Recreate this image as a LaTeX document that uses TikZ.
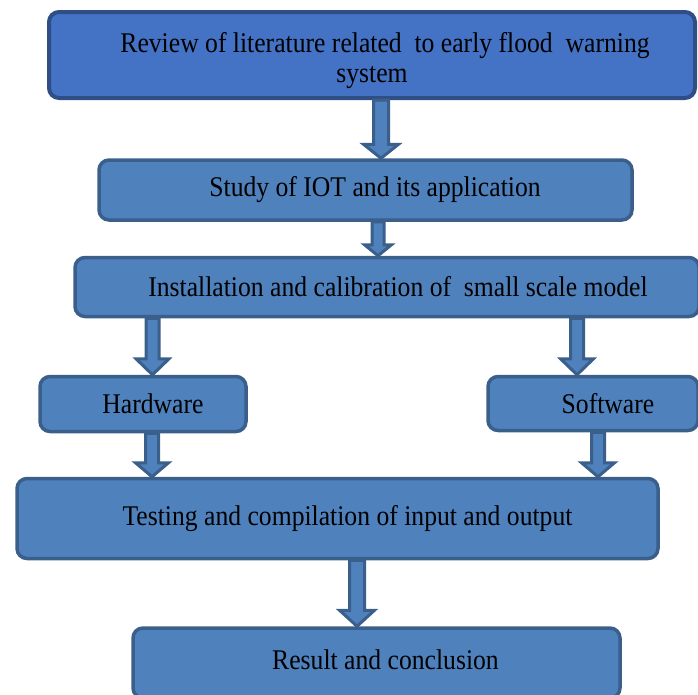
\documentclass[tikz,border=0pt]{standalone}
\usepackage{fontspec}
\setmainfont{Liberation Serif}[FakeStretch=0.9]
\usetikzlibrary{calc}
\definecolor{topfill}{HTML}{4472C4}
\definecolor{topline}{HTML}{2F4E86}
\definecolor{boxfill}{HTML}{4F81BD}
\definecolor{boxline}{HTML}{3A5F8B}
\tikzset{
  box/.style={draw=boxline, fill=boxfill, line width=3.5pt, rounded corners=10pt,
    inner sep=0pt, align=center, font=\fontsize{28.5}{30}\selectfont, text=black},
  topbox/.style={box, draw=topline, fill=topfill, line width=4pt},
  barrowstyle/.style={draw=boxline, fill=boxfill, line width=3pt, line join=miter}
}
% #1 start, #2 end, #3 half shaft, #4 half head, #5 head length
\newcommand{\blockarrow}[5]{%
  \path[barrowstyle] let \p1=(#1), \p2=(#2) in
    (\x1-#3pt,\y1) -- (\x1+#3pt,\y1) -- (\x1+#3pt,\y2+#5pt) -- (\x1+#4pt,\y2+#5pt)
    -- (\x1,\y2) -- (\x1-#4pt,\y2+#5pt) -- (\x1-#3pt,\y2+#5pt) -- cycle;}
\begin{document}
\begin{tikzpicture}[x=1pt,y=-1pt]
\useasboundingbox (0,0) rectangle (698,694);
\node[topbox, minimum width=646pt, minimum height=86pt] (b1) at (372,55)
  {\raisebox{-13pt}[0pt][0pt]{\begin{tabular}{@{}c@{}}Review of literature related~ to early flood~ warning\hspace*{-26pt}\\ system\end{tabular}}};
\node[box, minimum width=533pt, minimum height=60pt] (b2) at (365.5,190)
  {Study of IOT and its application\hspace*{-19pt}};
\node[box, minimum width=624pt, minimum height=59pt] (b3) at (387,287)
  {Installation and calibration of~ small scale model\hspace*{-22pt}};
\node[box, minimum width=206pt, minimum height=55pt] (hw) at (143,404)
  {Hardware\hspace*{-20pt}};
\node[box, minimum width=210pt, minimum height=54pt] (sw) at (593,403.5)
  {Software\hspace*{-30pt}};
\node[box, minimum width=641pt, minimum height=80pt] (tc) at (337.5,518.5)
  {Testing and compilation of input and output\hspace*{-20pt}};
\node[box, minimum width=487pt, minimum height=70pt] (rc) at (376.5,663)
  {\raisebox{6pt}{Result and conclusion}\hspace*{-18pt}};
% connectors
\coordinate (a1s) at ([xshift=9pt]b1.south);
\coordinate (a2s) at ([xshift=12.5pt]b2.south);
\coordinate (a3s) at ([xshift=-234.5pt]b3.south);
\coordinate (a4s) at ([xshift=190pt]b3.south);
\coordinate (a5s) at ([xshift=9pt]hw.south);
\coordinate (a6s) at ([xshift=5pt]sw.south);
\coordinate (a7s) at ([xshift=19.5pt]tc.south);
\blockarrow{a1s}{a1s |- b2.north}{7.5}{17.5}{14}
\blockarrow{a2s}{a2s |- b3.north}{6}{13.5}{11}
\blockarrow{a3s}{a3s |- hw.north}{6.5}{16.5}{16}
\blockarrow{a4s}{a4s |- sw.north}{6.5}{16.5}{16}
\blockarrow{a5s}{a5s |- tc.north}{6.5}{16.5}{14}
\blockarrow{a6s}{a6s |- tc.north}{6.5}{16.5}{14}
\blockarrow{a7s}{a7s |- rc.north}{7.5}{17.5}{16}
\end{tikzpicture}
\end{document}
